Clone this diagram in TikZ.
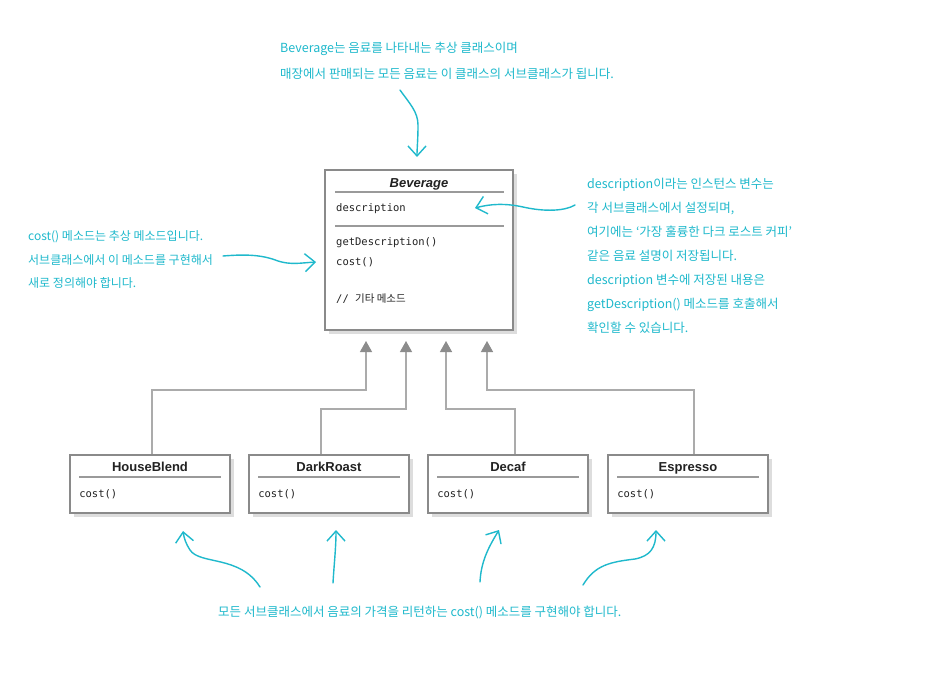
\documentclass[tikz,border=0pt]{standalone}
\usepackage{fontspec}
\setmainfont{Liberation Sans}
\newfontfamily\cjk{Noto Sans CJK KR}
\newfontfamily\monof{DejaVu Sans Mono}
\usetikzlibrary{arrows.meta,shadows}
\definecolor{anno}{HTML}{1FB9CC}
\definecolor{boxgray}{HTML}{8A8A8A}
\definecolor{sepgray}{HTML}{9A9A9A}
\definecolor{shadowgray}{HTML}{DDDDDD}
\definecolor{linkgray}{HTML}{ABABAB}
\definecolor{tipgray}{HTML}{8C8C8C}
\definecolor{ink}{HTML}{222222}
\begin{document}
\begin{tikzpicture}[x=1pt,y=-1pt,
  umlbox/.style={draw=boxgray,line width=1.8pt,fill=white,inner sep=0pt,
    general shadow={fill=shadowgray,shadow xshift=4pt,shadow yshift=-4pt}},
  subbox/.style={umlbox,minimum width=160pt,minimum height=58pt},
  cname/.style={font=\fontsize{13}{15}\selectfont\bfseries,text=ink,inner sep=0pt,anchor=base},
  member/.style={font=\monof\fontsize{10.5}{12}\selectfont,text=ink,inner sep=0pt,anchor=base west},
  sepline/.style={draw=sepgray,line width=1.6pt},
  inh/.style={draw=linkgray,line width=1.3pt,-{Triangle[width=12pt,length=11pt,color=tipgray]}},
  note/.style={font=\cjk\fontsize{12.5}{24}\selectfont,text=anno,inner sep=0pt,align=left,anchor=north west},
  hand/.style={draw=anno,line width=1.4pt,line cap=round,-{Straight Barb[length=10pt,width=18pt,line width=1.4pt]}}
]
\useasboundingbox (0,0) rectangle (934,675);
\fill[white] (0,0) rectangle (934,675);

% Beverage class
\node[umlbox,minimum width=188pt,minimum height=160pt] (bev) at (419,250) {};
\node[cname] (bevname) at (419,187) {\itshape Beverage};
\draw[sepline] (335,192) -- (504,192);
\node[member] (bdesc) at (336,211.5) {description};
\draw[sepline] (335,226) -- (504,226);
\node[member] (bgetd) at (336,245.5) {getDescription()};
\node[member] (bcost) at (336,265.5) {cost()};
\node[member] (bother) at (336,302.5) {// {\cjk 기타 메소드}};

% subclasses
\node[subbox] (hb) at (150,484) {};
\node[subbox] (dr) at (329,484) {};
\node[subbox] (dc) at (508,484) {};
\node[subbox] (es) at (688,484) {};
\foreach \b/\n in {hb/HouseBlend,dr/DarkRoast,dc/Decaf,es/Espresso}{
  \node[cname] (\b name) at ([yshift=-17pt]\b.north) {\n};
  \draw[sepline] ([xshift=10pt,yshift=-23pt]\b.north west) -- ([xshift=-10pt,yshift=-23pt]\b.north east);
  \node[member] (\b cost) at ([xshift=10pt,yshift=-43pt]\b.north west) {cost()};
}

% inheritance
\coordinate (t1) at (366,341);
\coordinate (t2) at (406,341);
\coordinate (t3) at (446,341);
\coordinate (t4) at (487,341);
\draw[inh] ([xshift=2pt]hb.north) -- ++(0,-64) -| (t1);
\draw[inh] ([xshift=-8pt]dr.north) -- ++(0,-45) -| (t2);
\draw[inh] ([xshift=7pt]dc.north) -- ++(0,-45) -| (t3);
\draw[inh] ([xshift=6pt]es.north) -- ++(0,-64) -| (t4);

% notes
\node[note] (ntop) at (280,41.5) {Beverage는 음료를 나타내는 추상 클래스이며\\[2pt]매장에서 판매되는 모든 음료는 이 클래스의 서브클래스가 됩니다.};
\node[note,font=\cjk\fontsize{12}{23.5}\selectfont] (nleft) at (28,230.5) {cost() 메소드는 추상 메소드입니다.\\서브클래스에서 이 메소드를 구현해서\\새로 정의해야 합니다.};
\node[note] (nright) at (587,177.5) {description이라는 인스턴스 변수는\\각 서브클래스에서 설정되며,\\여기에는 ‘가장 훌륭한 다크 로스트 커피’\\같은 음료 설명이 저장됩니다.\\description 변수에 저장된 내용은\\getDescription() 메소드를 호출해서\\확인할 수 있습니다.};
\node[note] (nbottom) at (218,605.5) {모든 서브클래스에서 음료의 가격을 리턴하는 cost() 메소드를 구현해야 합니다.};

% hand arrows
\coordinate (a1s) at (400,90);
\coordinate (a1e) at (417,157);
\draw[hand] (a1s) .. controls (410,104) and (418,112) .. (418,125) .. controls (418,140) and (417,148) .. (a1e);
\coordinate (a2s) at (575,205);
\coordinate (a2e) at (475,208);
\draw[hand] (a2s) .. controls (565,211) and (545,212) .. (523,207) .. controls (505,203) and (490,204) .. (a2e);
\coordinate (a3s) at (223,256);
\coordinate (a3e) at (316,262);
\draw[hand] (a3s) .. controls (247,254) and (263,255) .. (278,261) .. controls (291,265) and (300,263) .. (a3e);
\coordinate (b1s) at (260,587);
\coordinate (b1e) at (183,531);
\draw[hand] (b1s) .. controls (240,555) and (200,565) .. (190,550) .. controls (186,544) and (184,538) .. (b1e);
\coordinate (b2s) at (333,583);
\coordinate (b2e) at (336,530);
\draw[hand] (b2s) .. controls (334,565) and (336,548) .. (b2e);
\coordinate (b3s) at (480,582);
\coordinate (b3e) at (499,530);
\draw[hand] (b3s) .. controls (481,560) and (490,545) .. (b3e);
\coordinate (b4s) at (583,585);
\coordinate (b4e) at (656,530);
\draw[hand] (b4s) .. controls (595,565) and (610,562) .. (635,559) .. controls (650,556) and (656,548) .. (b4e);
\end{tikzpicture}
\end{document}
